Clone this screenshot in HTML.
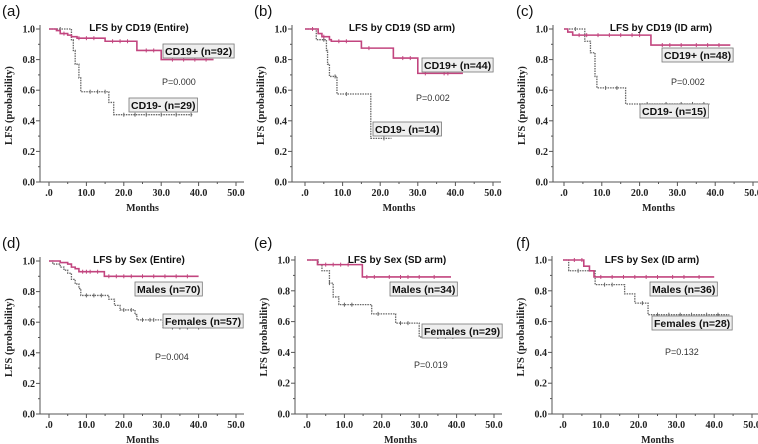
<!DOCTYPE html>
<html><head><meta charset="utf-8"><style>
html,body{margin:0;padding:0;background:#fff;}
svg{display:block;}
.tk{font-family:"Liberation Serif",serif;font-weight:bold;font-size:10px;fill:#222;}
.yt{font-family:"Liberation Serif",serif;font-weight:bold;font-size:10.5px;fill:#222;}
.ttl{font-family:"Liberation Sans",sans-serif;font-weight:bold;font-size:10px;fill:#111;}
.lg{font-family:"Liberation Sans",sans-serif;font-weight:bold;font-size:10.5px;fill:#111;}
.pv{font-family:"Liberation Sans",sans-serif;font-size:9px;fill:#333;}
.let{font-family:"Liberation Sans",sans-serif;font-size:15px;fill:#111;}
</style></head><body>
<svg id="fig" width="758" height="444" viewBox="0 0 758 444"></svg>
<script>
// ---- data ----
const panelIds = ['a','b','c','d','e','f'];
const panelTitles = ['LFS by CD19 (Entire)','LFS by CD19 (SD arm)','LFS by CD19 (ID arm)','LFS by Sex (Entire)','LFS by Sex (SD arm)','LFS by Sex (ID arm)'];
const pValues = ['P=0.000','P=0.002','P=0.002','P=0.004','P=0.019','P=0.132'];
const pinkLabels = ['CD19+ (n=92)','CD19+ (n=44)','CD19+ (n=48)','Males (n=70)','Males (n=34)','Males (n=36)'];
const greyLabels = ['CD19- (n=29)','CD19-  (n=14)','CD19-  (n=15)','Females (n=57)','Females (n=29)','Females (n=28)'];
const yTicks = [0,0.2,0.4,0.6,0.8,1.0];
const yTickLabels = ['0.0','0.2','0.4','0.6','0.8','1.0'];
const xTicks = [0,10,20,30,40,50];
const xTickLabels = ['.0','10.0','20.0','30.0','40.0','50.0'];
// step curves: times, survival, end time, censor times
const pinkTimes = [[0,2,3,5,6,7.5,15,23.5,30],[0,3.5,4.5,6.5,7,15,23.5,30],[0,1,2.3,23],[0,3,5,6,7,8,14.8],[0,2.8,14.8],[0,5.5,7,8.2]];
const pinkSurv = [[1,0.99,0.97,0.96,0.95,0.94,0.92,0.86,0.80],[1,0.97,0.95,0.93,0.92,0.875,0.81,0.71],[1,0.98,0.96,0.895],[1,0.99,0.98,0.96,0.95,0.93,0.90],[1,0.97,0.89],[1,0.96,0.93,0.89]];
const pinkEnd = [44,42,44,40,38.5,40];
const pinkCens = [[4,8,10,12,17,19,21,26,28,33,36,39,42],[2,5,9,11,17,26,28,32,37,38],[4,6,9,12,15,18,20,26,28,31,35,38,41],[9,10,11,13,16,18,20,22,25,28,31,34,37],[5,7,9,11,16,18,22,25,27,30,34],[3,5,10,13,16,19,22,25,29,32,36]];
const greyTimes = [[0,6,6.5,7,8,8.5,16,17.3],[0,3,5.7,6,6.5,8.5,17.5],[0,5.5,7,8.2,8.7,16.3],[0,1,3,4,5,6,7,8,8.5,16,17.5,19,23,23.5,30.5],[0,3,4,6,7,8.5,17.3,23.7,30],[0,1.5,8.5,16.3,19,22.5]];
const greySurv = [[1,0.93,0.86,0.77,0.68,0.59,0.52,0.44],[1,0.93,0.86,0.77,0.69,0.575,0.285],[1,0.92,0.845,0.69,0.615,0.51],[1,0.98,0.96,0.94,0.92,0.88,0.85,0.82,0.775,0.75,0.71,0.68,0.65,0.615,0.565],[1,0.97,0.93,0.85,0.76,0.71,0.65,0.59,0.50],[1,0.93,0.84,0.78,0.72,0.645]];
const greyEnd = [38.5,23,38.5,44,42,44];
const greyCens = [[3,11,13,15,20,23,26,30,34,38],[5,8,11,21],[3,11,14,22,27,31,34,37],[10,12,14,20,22,25,27,28,33,35,37,40],[6,10,12,19,25,27,35,37,39],[4,11,13,21,25,28,31,34,38,41]];
// ---- layout ----
const layout = [
 {ax:40,x0:49,x50:236,y1:29,y0:182,lx:2,ly:16},
 {ax:292,x0:305,x50:493,y1:29,y0:182,lx:254,ly:16},
 {ax:553,x0:564,x50:753,y1:29,y0:182,lx:516,ly:16},
 {ax:40,x0:49,x50:236,y1:261,y0:414,lx:2,ly:248},
 {ax:295,x0:307,x50:494,y1:260,y0:414,lx:254,ly:248},
 {ax:552,x0:563,x50:752,y1:260,y0:414,lx:516,ly:248}];
const labelPos = [
 {tx:139,ty:31,px:162,py:85,g1:[163,44],g2:[129,98]},
 {tx:402,ty:31,px:416,py:101,g1:[422,58],g2:[373,122]},
 {tx:661,ty:31,px:671,py:85,g1:[662,48],g2:[640,104]},
 {tx:139,ty:263,px:155,py:360,g1:[135,282],g2:[163,314]},
 {tx:397,ty:263,px:414,py:368,g1:[390,282],g2:[422,324]},
 {tx:652,ty:263,px:665,py:355,g1:[650,282],g2:[652,316]}];
const NS='http://www.w3.org/2000/svg';
const svg=document.getElementById('fig');
function mk(tag,attrs,parent){const e=document.createElementNS(NS,tag);for(const k in attrs)e.setAttribute(k,attrs[k]);(parent||svg).appendChild(e);return e;}
function txt(s,attrs,parent){const e=mk('text',attrs,parent);e.textContent=s;return e;}
const PINK='#c2457f', GREY='#666';
panelIds.forEach((id,i)=>{
  const L=layout[i], P=labelPos[i];
  const xs=t=>L.x0+(L.x50-L.x0)*t/50;
  const ys=v=>L.y0-(L.y0-L.y1)*v;
  const g=mk('g',{});
  
  
  const let_=txt('('+id+')',{x:L.lx,y:L.ly,class:'let'},g);
  
  
  const axY=mk('line',{x1:L.ax,y1:L.y1-4,x2:L.ax,y2:L.y0,stroke:'#555','stroke-width':1},g);
  
  
  const axX=mk('line',{x1:L.ax,y1:L.y0,x2:L.x50+8,y2:L.y0,stroke:'#555','stroke-width':1},g);
  
  
  for(let v=0;v<=1.001;v+=0.1){mk('line',{x1:L.ax-(Math.round(v*10)%2===0?4:2),y1:ys(v),x2:L.ax,y2:ys(v),stroke:'#555'},g);}
  yTicks.forEach((v,k)=>{const t=txt(yTickLabels[k],{x:L.ax-5,y:ys(v)+3.5,'text-anchor':'end',class:'tk'},g);
    
    });
  for(let t=0;t<=50;t+=5){mk('line',{x1:xs(t),y1:L.y0,x2:xs(t),y2:L.y0+(t%10===0?4:2),stroke:'#555'},g);}
  xTicks.forEach((t,k)=>{const e=txt(xTickLabels[k],{x:xs(t),y:L.y0+14,'text-anchor':'middle',class:'tk'},g);
    
    });
  const xt=txt('Months',{x:xs(25),y:L.y0+29,'text-anchor':'middle',class:'tk'},g);
  
  
  const yt=txt('LFS (probability)',{x:0,y:0,'text-anchor':'middle',class:'yt',transform:`translate(${L.ax-28},${(L.y0+L.y1)/2}) rotate(-90)`},g);
  
  
  function curve(times,surv,end,cens,color,dash,w,name){
    let d=`M${xs(times[0])},${ys(surv[0])}`;
    for(let k=1;k<times.length;k++){d+=` H${xs(times[k])} V${ys(surv[k])}`;}
    d+=` H${xs(end)}`;
    const p=mk('path',{d:d,fill:'none',stroke:color,'stroke-width':w,'stroke-dasharray':dash},g);
    
    
    cens.forEach(c=>{let k=0;for(let j=0;j<times.length;j++)if(times[j]<=c)k=j;
      const y=ys(surv[k]);
      const m=mk('line',{x1:xs(c),y1:y-2,x2:xs(c),y2:y+2,stroke:color,'stroke-width':1},g);
      
      });
  }
  curve(greyTimes[i],greySurv[i],greyEnd[i],greyCens[i],GREY,'1.5,1',1.3,'grey-curve');
  curve(pinkTimes[i],pinkSurv[i],pinkEnd[i],pinkCens[i],PINK,'none',1.6,'pink-curve');
  const tt=txt(panelTitles[i],{x:P.tx,y:P.ty,'text-anchor':'middle',class:'ttl'},g);
  
  
  const pv=txt(pValues[i],{x:P.px,y:P.py,class:'pv'},g);
  
  
  function legend(label,pos,name){
    const r=mk('rect',{x:pos[0],y:pos[1],width:10,height:14,fill:'#eee',stroke:'#777','stroke-width':0.8},g);
    
    
    const t=txt(label,{x:pos[0]+2,y:pos[1]+11,class:'lg'},g);
    
    
    r.setAttribute('width',t.getComputedTextLength()+4);
  }
  legend(pinkLabels[i],P.g1,'legend-pink');
  legend(greyLabels[i],P.g2,'legend-grey');
});
</script>
</body></html>
